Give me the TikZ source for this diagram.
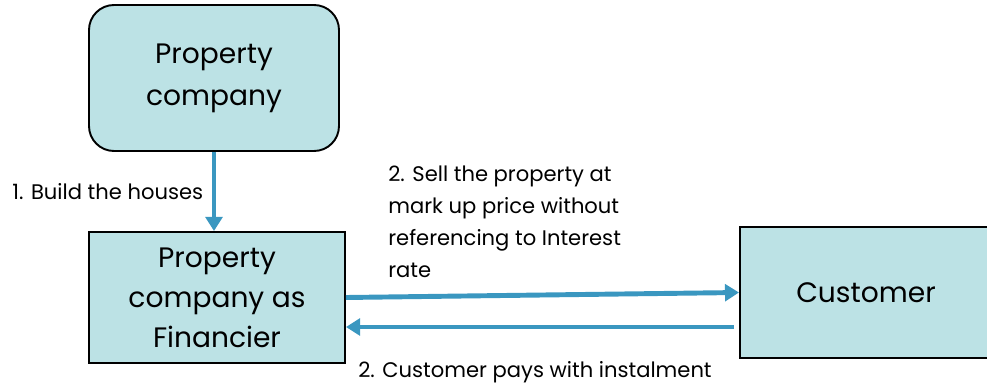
\documentclass[tikz,border=0pt]{standalone}
\usepackage{fontspec}
\setmainfont{Poppins}
\usetikzlibrary{positioning, arrows.meta, calc}

\definecolor{boxfill}{HTML}{BCE2E5}
\definecolor{arrowblue}{HTML}{3A97C0}

\begin{document}
\begin{tikzpicture}[x=0.02cm, y=-0.02cm,
        box/.style={draw=black, line width=1.1pt, fill=boxfill, align=center, inner sep=0pt,
            font=\fontsize{16}{22.7}\selectfont},
        flow/.style={draw=arrowblue, line width=2.8pt, -{Triangle[width=9.5pt, length=8pt]}},
        note/.style={font=\fontsize{12}{18.1}\selectfont, inner sep=0pt, align=left}]
        \def\px{0.02cm}

        \useasboundingbox (0,0) rectangle (987,382);

        % boxes
        \node[box, rounded corners=0.5cm, minimum width=250*\px, minimum height=146*\px,
            font=\fontsize{16}{24}\selectfont] (propco) at (214,78) {Property\\company};
        \node[box, minimum width=256*\px, minimum height=131*\px] (financier) at (217,297.5) {Property\\company as\\Financier};
        \node[box, minimum width=252*\px, minimum height=131*\px] (customer) at (866,292.5) {Customer};

        % arrows
        \coordinate (payin) at ([shift={(-5,34.5)}]customer.west);
        \draw[flow] (propco.south) -- (propco.south |- financier.north);
        \draw[flow] (financier.east) -- (customer.west);
        \draw[flow] (payin) -- (payin -| financier.east);

        % labels
        \node[note, anchor=base west] (build) at (12,199) {1. Build the houses};
        \node[note, anchor=north west] (sell) at (388,166) {2. Sell the property at\\mark up price without\\referencing to Interest\\rate};
        \node[note, anchor=base west] (pays) at (358,377) {2. Customer pays with instalment};
    \end{tikzpicture}
\end{document}
